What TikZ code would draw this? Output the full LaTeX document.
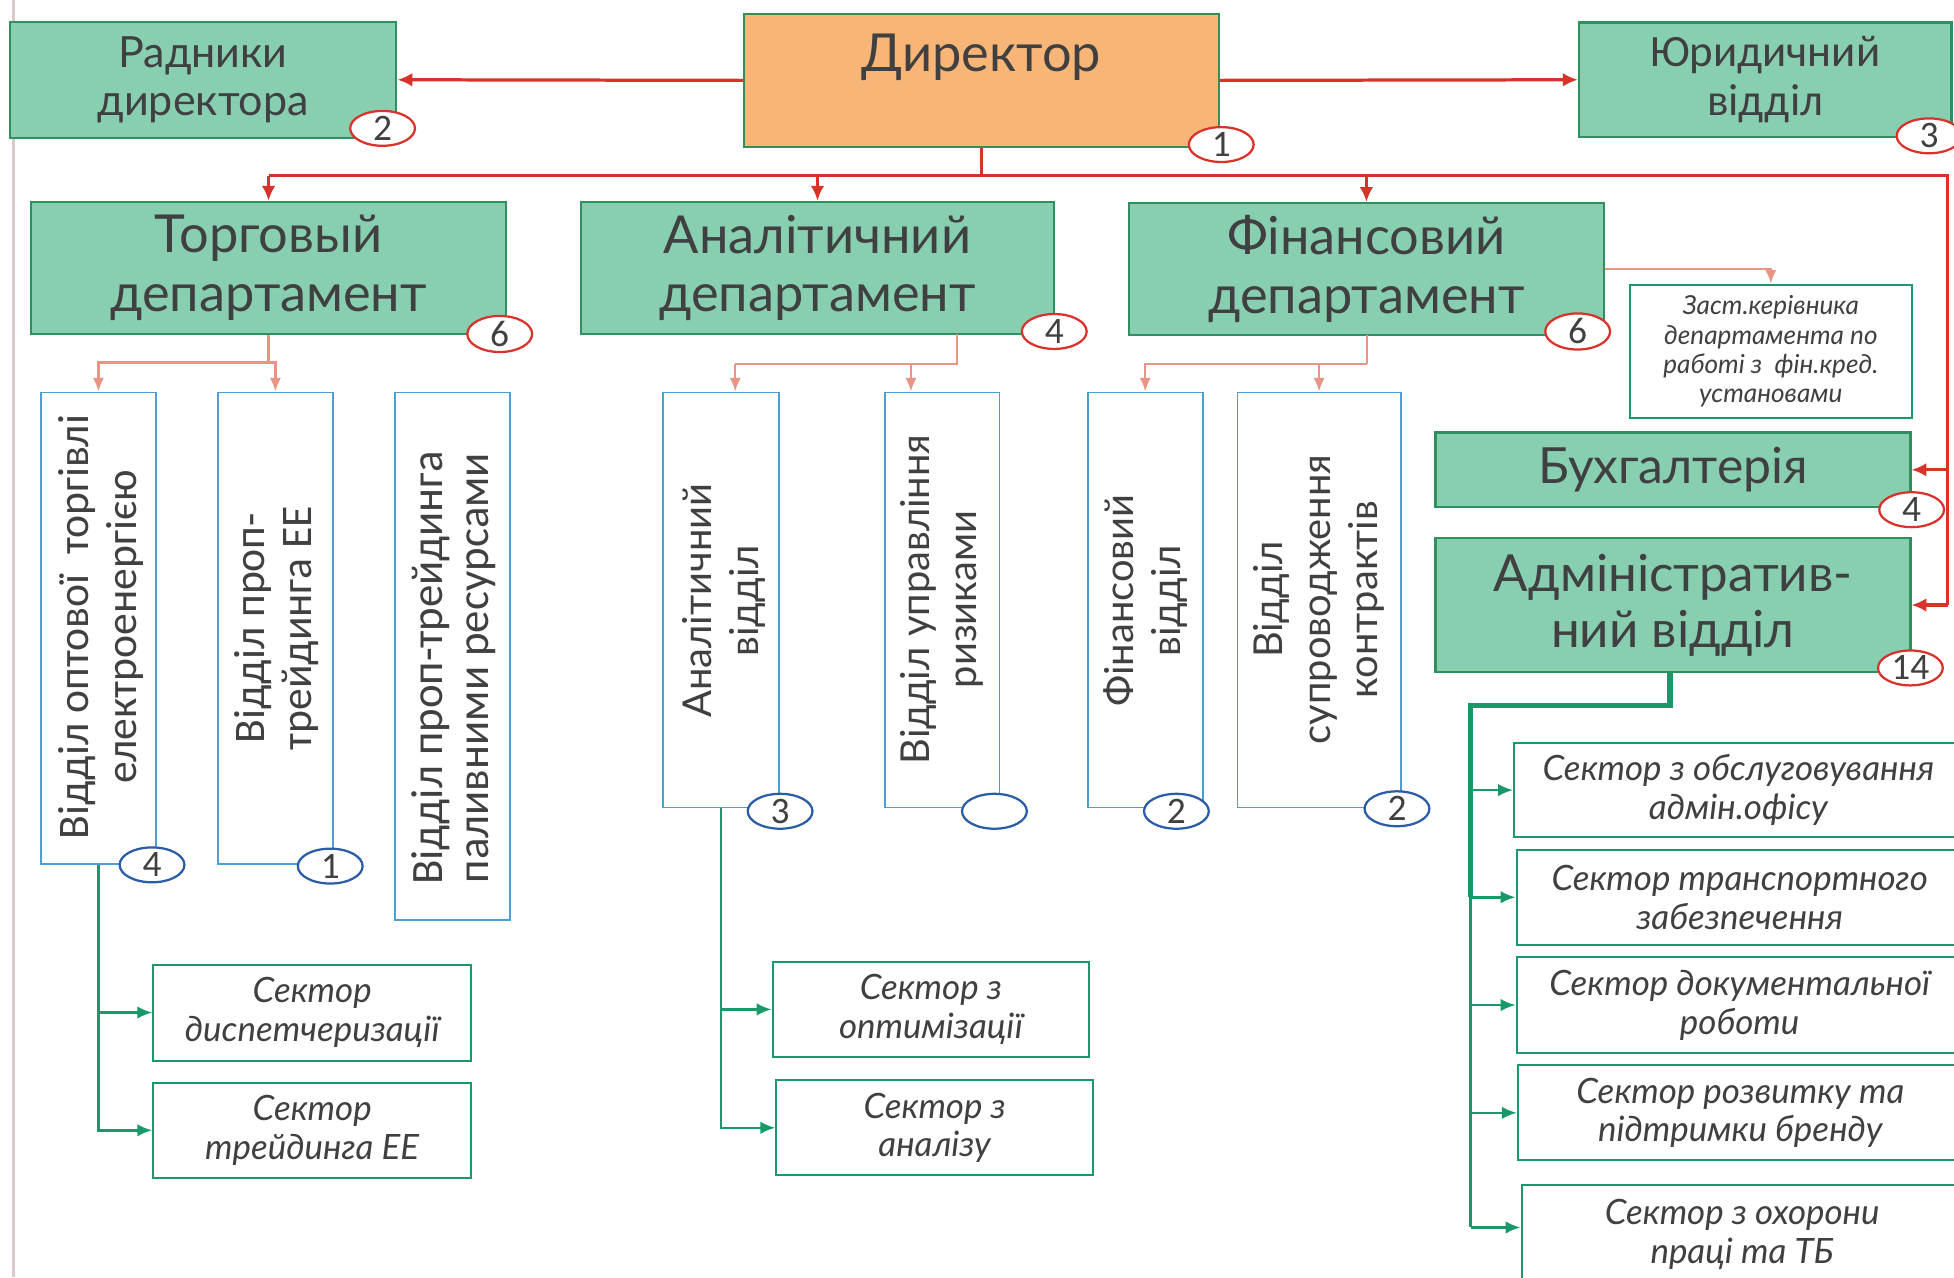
\documentclass[tikz,border=0pt]{standalone}
\usepackage{fontspec}
\setmainfont{Lato}
\newfontfamily\calfont{Carlito}
\usetikzlibrary{shapes.geometric,arrows.meta,calc}
\definecolor{mint}{HTML}{88CFB2}
\definecolor{mintdark}{HTML}{2F8F5E}
\definecolor{orng}{HTML}{F7B677}
\definecolor{redl}{HTML}{D8322A}
\definecolor{salm}{HTML}{E99585}
\definecolor{bluel}{HTML}{4C9ED3}
\definecolor{bluebadge}{HTML}{2B5CA8}
\definecolor{grnl}{HTML}{17996A}
\definecolor{txt}{HTML}{404040}
\definecolor{edge}{HTML}{DCCACA}
\begin{document}
\begin{tikzpicture}[x=1pt,y=-1pt,
  every node/.style={text=txt},
  gbox/.style={draw=mintdark, line width=1.8pt, fill=mint, inner sep=0pt, align=center},
  obox/.style={draw=mintdark, line width=1.5pt, fill=orng, inner sep=0pt},
  wbox/.style={draw=grnl, line width=1.6pt, fill=white, inner sep=0pt, align=center},
  vbox/.style={draw=bluel, line width=1.5pt, fill=white, inner sep=0pt},
  vtxt/.style={rotate=90, align=center, inner sep=0pt},
  big/.style={font=\fontsize{42}{47}\selectfont},
  secfont/.style={font=\itshape\fontsize{28}{31}\selectfont},
  admfont/.style={font=\itshape\fontsize{28}{31}\selectfont},
  badge/.style={ellipse, line width=1.8pt, fill=white, minimum width=52pt, minimum height=28pt, inner sep=0pt, font=\calfont\fontsize{30}{30}\selectfont},
  rbadge/.style={badge, draw=redl},
  bbadge/.style={badge, draw=bluebadge},
  redln/.style={draw=redl, line width=2.6pt},
  redarr/.style={redln, -{Latex[length=12pt,width=11pt]}},
  salln/.style={draw=salm, line width=2pt},
  salarr/.style={salln, -{Latex[length=11pt,width=9pt]}},
  grnarr/.style={draw=grnl, line width=2pt, -{Latex[length=12pt,width=10pt]}},
  grnthick/.style={draw=grnl, line width=4.5pt},
  grnthin/.style={draw=grnl, line width=2pt}
]
\useasboundingbox (0,0) rectangle (1568,1025);
\clip (0,0) rectangle (1568,1025);
\fill[white] (0,0) rectangle (1568,1025);
\draw[edge, line width=2pt] (11,0) -- (11,1025);

% top row
\node[gbox, minimum width=310pt, minimum height=93pt, font=\fontsize{34.5}{38}\selectfont] (rad) at (163,64) {Радники\\директора};
\node[obox, minimum width=381pt, minimum height=107pt] (dir) at (787.5,64.5) {};
\node[big] (dirt) at (787.5,46) {Директор};
\node[gbox, minimum width=299pt, minimum height=92pt, font=\calfont\fontsize{36}{39}\selectfont] (yur) at (1416.5,64) {Юридичний\\відділ};

% departments
\node[gbox, minimum width=381pt, minimum height=106pt, big] (torg) at (215.5,215) {Торговый\\департамент};
\node[gbox, minimum width=380pt, minimum height=106pt, big] (an) at (656,215) {Аналітичний\\департамент};
\node[gbox, minimum width=381pt, minimum height=106pt, big] (fin) at (1096.5,216) {Фінансовий\\департамент};
\node[wbox, minimum width=226pt, minimum height=107pt, font=\itshape\fontsize{21}{23.5}\selectfont] (zast) at (1421,282) {Заст.керівника\\департамента по\\работі з\ \ фін.кред.\\установами};
\node[gbox, minimum width=381pt, minimum height=60pt, font=\fontsize{40}{45}\selectfont] (buh) at (1342.5,377) {Бухгалтерія};
\node[gbox, minimum width=381pt, minimum height=107pt, font=\fontsize{41}{45}\selectfont] (adm) at (1342.5,485.5) {Адміністратив-\\ний відділ};

% vertical boxes
\node[vbox, minimum width=92pt, minimum height=378pt] (vo) at (79,504) {};
\node[vtxt, font=\calfont\fontsize{35}{38}\selectfont] (vot) at (81,503) {Відділ оптової\ \ торгівлі\\електроенергією};
\node[vbox, minimum width=92pt, minimum height=378pt] (vp) at (221,504) {};
\node[vtxt, font=\calfont\fontsize{35}{38}\selectfont] (vpt) at (222,504) {Відділ проп-\\трейдинга ЕЕ};
\node[vbox, minimum width=92pt, minimum height=423pt] (vpp) at (363,526.5) {};
\node[vtxt, font=\calfont\fontsize{36}{37}\selectfont] (vppt) at (364,536) {Відділ проп-трейдинга\\паливними ресурсами};
\node[vbox, minimum width=93pt, minimum height=333pt] (av) at (578.5,481.5) {};
\node[vtxt, font=\fontsize{32}{38}\selectfont] (avt) at (581,482) {Аналітичний\\відділ};
\node[vbox, minimum width=92pt, minimum height=333pt] (ar) at (756,481.5) {};
\node[vtxt, font=\fontsize{32}{38}\selectfont] (art) at (756,481) {Відділ управління\\ризиками};
\node[vbox, minimum width=92pt, minimum height=333pt] (fv) at (919,481.5) {};
\node[vtxt, font=\fontsize{32}{38}\selectfont] (fvt) at (919,482) {Фінансовий\\відділ};
\node[vbox, minimum width=131pt, minimum height=333pt] (fs) at (1058.5,481.5) {};
\node[vtxt, font=\fontsize{32}{38}\selectfont] (fst) at (1058.5,481) {Відділ\\супроводження\\контрактів};

% sectors
\node[wbox, minimum width=255pt, minimum height=77pt, secfont] (sd) at (250.5,812.5) {Сектор\\диспетчеризації};
\node[wbox, minimum width=255pt, minimum height=76pt, secfont] (st) at (250.5,907) {Сектор\\трейдинга ЕЕ};
\node[wbox, minimum width=254pt, minimum height=76pt, secfont] (so) at (747,810) {Сектор з\\оптимізації};
\node[wbox, minimum width=254pt, minimum height=76pt, secfont] (sa) at (750,905) {Сектор з\\аналізу};
\node[wbox, minimum width=360pt, minimum height=76pt, admfont] (s1) at (1395,634) {Сектор з обслуговування\\адмін.офісу};
\node[wbox, minimum width=358pt, minimum height=76pt, admfont] (s2) at (1396,720) {Сектор транспортного\\забезпечення};
\node[wbox, minimum width=358pt, minimum height=77pt, admfont] (s3) at (1396,806.5) {Сектор документальної\\роботи};
\node[wbox, minimum width=357pt, minimum height=76pt, admfont] (s4) at (1396.5,893) {Сектор розвитку та\\підтримки бренду};
\node[wbox, minimum width=354pt, minimum height=79pt, admfont] (s5) at (1398,990.5) {Сектор з охорони\\праці та ТБ};

% red connectors
\coordinate (busC) at (787.5,141);
\coordinate (busL) at (215.5,141);
\coordinate (busR) at (1563,141);
\draw[redarr] (dir.west) -- (rad.east);
\draw[redarr] (dir.east) -- (yur.west);
\draw[redln] (dir.south) -- (busC);
\draw[redln] (busL) -- (busR) -- (busR |- adm.east);
\draw[redarr] (busL) -- (torg.north);
\draw[redarr] (an.north |- busL) -- (an.north);
\draw[redarr] (fin.north |- busL) -- (fin.north);
\draw[redarr] (busR |- buh.east) -- (buh.east);
\draw[redarr] (busR |- adm.east) -- (adm.east);

% salmon connectors
\draw[salarr] (fin.east) -| (zast.north);
\coordinate (tb) at (215.5,291);
\draw[salln] (torg.south) -- (tb);
\draw[salarr] (tb) -| (vo.north);
\draw[salarr] (tb) -| (vp.north);
\coordinate (ab0) at (768,268);
\coordinate (ab) at (768,292);
\coordinate (ab1) at (590,292);
\coordinate (ab2) at (731,292);
\draw[salln] (ab0) -- (ab) -- (ab1);
\draw[salarr] (ab1) -- (ab1 |- av.north);
\draw[salarr] (ab2) -- (ab2 |- ar.north);
\coordinate (fb0) at (1097,269);
\coordinate (fb) at (1097,292);
\draw[salln] (fb0) -- (fb);
\draw[salarr] (fb) -| (fv.north);
\draw[salarr] (fb) -| (fs.north);

% green connectors
\draw[grnarr] (vo.south) |- (sd.west);
\draw[grnarr] (vo.south) |- (st.west);
\draw[grnarr] (av.south) |- (so.west);
\draw[grnarr] (av.south) |- (sa.west);
\coordinate (ak1) at (1340,566);
\coordinate (ak2) at (1180,566);
\coordinate (ak3) at (1180,985);
\draw[grnthick] (1340,539) -- (ak1) -- (ak2) -- (ak2 |- s2.west);
\draw[grnthin] (ak2 |- s2.west) -- (ak3);
\draw[grnarr] (ak2 |- s1.west) -- (s1.west);
\draw[grnarr] (ak2 |- s2.west) -- (s2.west);
\draw[grnarr] (ak2 |- s3.west) -- (s3.west);
\draw[grnarr] (ak2 |- s4.west) -- (s4.west);
\draw[grnarr] (ak3) -- (ak3 -| s5.west);

% badges
\node[rbadge] (b1) at (980,116) {1};
\node[rbadge] (b2) at (307,103) {2};
\node[rbadge] (b3) at (1548,109) {3};
\node[rbadge] (b4) at (401,268) {6};
\node[rbadge] (b5) at (846,266) {4};
\node[rbadge] (b6) at (1266,266) {6};
\node[rbadge] (b7) at (1534,409) {4};
\node[rbadge] (b8) at (1533,536) {14};
\node[bbadge] (b9) at (122,694) {4};
\node[bbadge] (b10) at (265,695) {1};
\node[bbadge] (b11) at (626,651) {3};
\node[bbadge] (b12) at (798,651) {};
\node[bbadge] (b13) at (944,651) {2};
\node[bbadge] (b14) at (1121,649) {2};
\end{tikzpicture}
\end{document}
